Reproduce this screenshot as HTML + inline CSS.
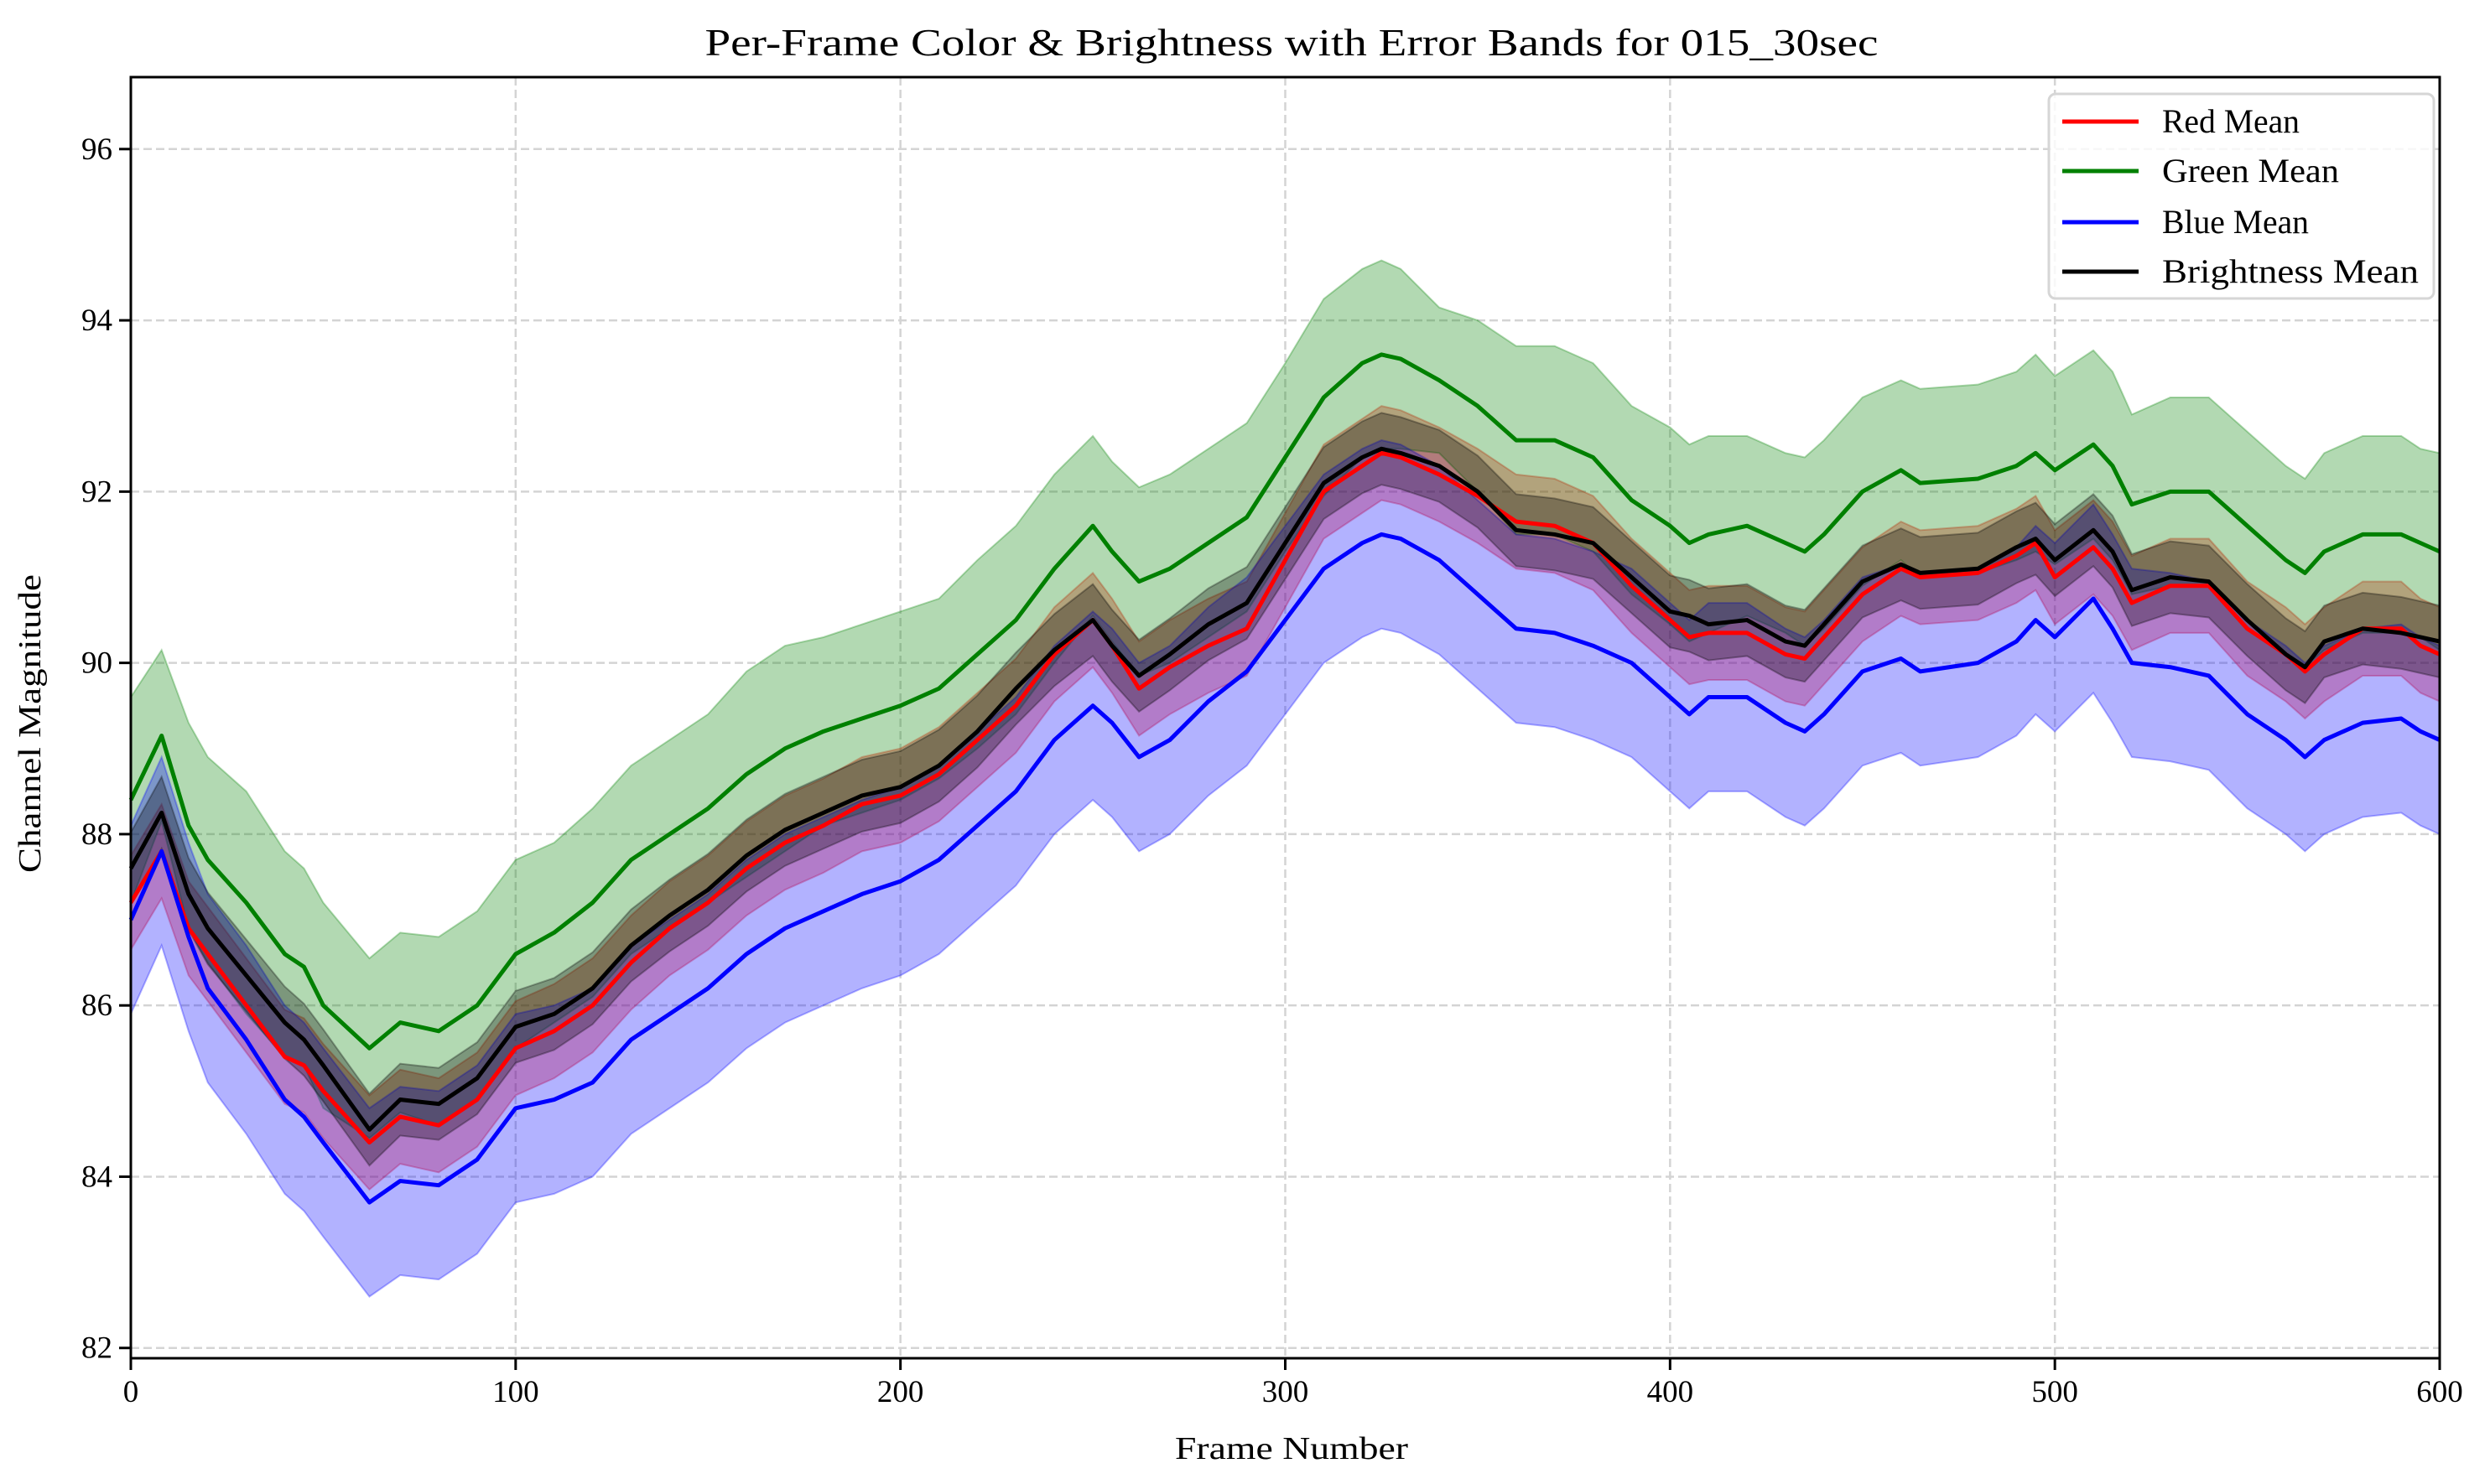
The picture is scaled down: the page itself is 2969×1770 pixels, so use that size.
<!DOCTYPE html>
<html><head><meta charset="utf-8"><style>
body{margin:0;background:#fff}
svg{display:block;font-family:"Liberation Serif",serif}
</style></head><body>
<svg id="chart" width="2969" height="1770" viewBox="0 0 2969 1770" xmlns="http://www.w3.org/2000/svg">
<rect width="2969" height="1770" fill="#fff"/>
<g id="grid"></g>
<g id="bands"></g>
<g id="lines"></g>
<g id="axes"></g>
<text x="1540" y="66" font-size="46" text-anchor="middle" textLength="1399" lengthAdjust="spacingAndGlyphs">Per-Frame Color &amp; Brightness with Error Bands for 015_30sec</text>
<text x="1540" y="1740" font-size="38" text-anchor="middle" textLength="278" lengthAdjust="spacingAndGlyphs">Frame Number</text>
<text x="48" y="863" font-size="38" text-anchor="middle" textLength="356" lengthAdjust="spacingAndGlyphs" transform="rotate(-90 48 863)">Channel Magnitude</text>
<g>
<rect x="2443" y="112" width="459" height="244" rx="8" fill="#fff" fill-opacity="0.8" stroke="#d6d6d6" stroke-width="3"/>
<line x1="2459" x2="2550" y1="145" y2="145" stroke="#ff0000" stroke-width="5"/>
<text x="2578" y="158" font-size="40" textLength="164" lengthAdjust="spacingAndGlyphs">Red Mean</text>
<line x1="2459" x2="2550" y1="204" y2="204" stroke="#008000" stroke-width="5"/>
<text x="2578" y="217" font-size="40" textLength="211" lengthAdjust="spacingAndGlyphs">Green Mean</text>
<line x1="2459" x2="2550" y1="265" y2="265" stroke="#0000ff" stroke-width="5"/>
<text x="2578" y="278" font-size="40" textLength="175" lengthAdjust="spacingAndGlyphs">Blue Mean</text>
<line x1="2459" x2="2550" y1="324" y2="324" stroke="#000" stroke-width="5"/>
<text x="2578" y="337" font-size="40" textLength="306" lengthAdjust="spacingAndGlyphs">Brightness Mean</text>
</g>
</svg>
<script>
const frames=[0,8,15,20,30,40,45,50,62,70,80,90,100,110,120,130,140,150,160,170,180,190,200,210,220,230,240,250,255,262,270,280,290,300,310,320,325,330,340,350,360,370,380,390,400,405,410,420,430,435,440,450,460,465,480,490,495,500,510,515,520,530,540,550,560,565,570,580,590,595,600];
const greenMean=[88.4,89.15,88.1,87.7,87.2,86.6,86.45,86.0,85.5,85.8,85.7,86.0,86.6,86.85,87.2,87.7,88.0,88.3,88.7,89.0,89.2,89.35,89.5,89.7,90.1,90.5,91.1,91.6,91.3,90.95,91.1,91.4,91.7,92.4,93.1,93.5,93.6,93.55,93.3,93.0,92.6,92.6,92.4,91.9,91.6,91.4,91.5,91.6,91.4,91.3,91.5,92.0,92.25,92.1,92.15,92.3,92.45,92.25,92.55,92.3,91.85,92.0,92.0,91.6,91.2,91.05,91.3,91.5,91.5,91.4,91.3];
const greenStd=[1.2,1.0,1.2,1.2,1.3,1.2,1.15,1.2,1.05,1.05,1.1,1.1,1.1,1.05,1.1,1.1,1.1,1.1,1.2,1.2,1.1,1.1,1.1,1.05,1.1,1.1,1.1,1.05,1.05,1.1,1.1,1.1,1.1,1.1,1.15,1.1,1.1,1.05,0.85,1.0,1.1,1.1,1.1,1.1,1.15,1.15,1.15,1.05,1.05,1.1,1.1,1.1,1.05,1.1,1.1,1.1,1.15,1.1,1.1,1.1,1.05,1.1,1.1,1.1,1.1,1.1,1.15,1.15,1.15,1.1,1.15];
const redMean=[87.2,87.8,86.9,86.6,86.0,85.4,85.3,85.0,84.4,84.7,84.6,84.9,85.5,85.7,86.0,86.5,86.9,87.2,87.6,87.9,88.1,88.35,88.45,88.7,89.1,89.5,90.1,90.5,90.2,89.7,89.95,90.2,90.4,91.2,92.0,92.3,92.45,92.4,92.2,91.95,91.65,91.6,91.4,90.9,90.5,90.3,90.35,90.35,90.1,90.05,90.3,90.8,91.1,91.0,91.05,91.25,91.4,91.0,91.35,91.1,90.7,90.9,90.9,90.4,90.1,89.9,90.1,90.4,90.4,90.2,90.1];
const redStd=[0.55];
const blueMean=[87.0,87.8,86.8,86.2,85.6,84.9,84.7,84.4,83.7,83.95,83.9,84.2,84.8,84.9,85.1,85.6,85.9,86.2,86.6,86.9,87.1,87.3,87.45,87.7,88.1,88.5,89.1,89.5,89.3,88.9,89.1,89.55,89.9,90.5,91.1,91.4,91.5,91.45,91.2,90.8,90.4,90.35,90.2,90.0,89.6,89.4,89.6,89.6,89.3,89.2,89.4,89.9,90.05,89.9,90.0,90.25,90.5,90.3,90.75,90.4,90.0,89.95,89.85,89.4,89.1,88.9,89.1,89.3,89.35,89.2,89.1];
const blueStd=[1.1];
const brightMean=[87.6,88.25,87.3,86.9,86.35,85.8,85.6,85.3,84.55,84.9,84.85,85.15,85.75,85.9,86.2,86.7,87.05,87.35,87.75,88.05,88.25,88.45,88.55,88.8,89.2,89.7,90.15,90.5,90.2,89.85,90.1,90.45,90.7,91.4,92.1,92.4,92.5,92.45,92.3,92.0,91.55,91.5,91.4,91.0,90.6,90.55,90.45,90.5,90.25,90.2,90.45,90.95,91.15,91.05,91.1,91.35,91.45,91.2,91.55,91.3,90.85,91.0,90.95,90.5,90.1,89.95,90.25,90.4,90.35,90.3,90.25];
const brightStd=[0.42];
const xTicks=[0,100,200,300,400,500,600];
const yTicks=[82,84,86,88,90,92,94,96];

const X0=156,X1=2909,Y0=1620,Y1=92,XMIN=0,XMAX=600,YMIN=81.88,YMAX=96.84;
const sx=f=>X0+(f-XMIN)/(XMAX-XMIN)*(X1-X0);
const sy=v=>Y0-(v-YMIN)/(YMAX-YMIN)*(Y0-Y1);
const NS='http://www.w3.org/2000/svg';
function mk(tag,attrs,parent){const e=document.createElementNS(NS,tag);for(const k in attrs)e.setAttribute(k,attrs[k]);parent.appendChild(e);return e;}
const grid=document.getElementById('grid'),bands=document.getElementById('bands'),lines=document.getElementById('lines'),axes=document.getElementById('axes');
const sd=(arr,i)=>arr[i]!==undefined?arr[i]:arr[arr.length-1];

xTicks.forEach(t=>{
  const g=mk('line',{x1:sx(t),x2:sx(t),y1:Y1,y2:Y0,stroke:'#d4d4d4','stroke-width':2.5,'stroke-dasharray':'10 5'},grid);
  
  
  const tk=mk('line',{x1:sx(t),x2:sx(t),y1:Y0,y2:Y0+14,stroke:'#000','stroke-width':3},axes);
  
  
  const tl=mk('text',{x:sx(t),y:Y0+52,'font-size':37,'text-anchor':'middle'},axes);
  tl.textContent=t;
  
  
});
yTicks.forEach(t=>{
  const g=mk('line',{x1:X0,x2:X1,y1:sy(t),y2:sy(t),stroke:'#d4d4d4','stroke-width':2.5,'stroke-dasharray':'10 5'},grid);
  
  
  const tk=mk('line',{x1:X0-14,x2:X0,y1:sy(t),y2:sy(t),stroke:'#000','stroke-width':3},axes);
  
  
  const tl=mk('text',{x:X0-22,y:sy(t)+12,'font-size':37,'text-anchor':'end'},axes);
  tl.textContent=t;
  
  
});

const series=[
  {name:'red',mean:redMean,std:redStd,color:'#ff0000'},
  {name:'green',mean:greenMean,std:greenStd,color:'#008000'},
  {name:'blue',mean:blueMean,std:blueStd,color:'#0000ff'},
  {name:'brightness',mean:brightMean,std:brightStd,color:'#000000'}
];
series.forEach(s=>{
  let up=[],lo=[];
  frames.forEach((f,i)=>{up.push(sx(f)+','+sy(s.mean[i]+sd(s.std,i)));lo.push(sx(f)+','+sy(s.mean[i]-sd(s.std,i)));});
  const p=mk('polygon',{points:up.concat(lo.reverse()).join(' '),fill:s.color,'fill-opacity':0.3,stroke:s.color,'stroke-opacity':0.3,'stroke-width':2},bands);
  
  
});
series.forEach(s=>{
  const pts=frames.map((f,i)=>sx(f)+','+sy(s.mean[i])).join(' ');
  const l=mk('polyline',{points:pts,fill:'none',stroke:s.color,'stroke-width':5,'stroke-linejoin':'round'},lines);
  
  
});
const frame=mk('rect',{x:X0,y:Y1,width:X1-X0,height:Y0-Y1,fill:'none',stroke:'#000','stroke-width':3},axes);


</script>
</body></html>
